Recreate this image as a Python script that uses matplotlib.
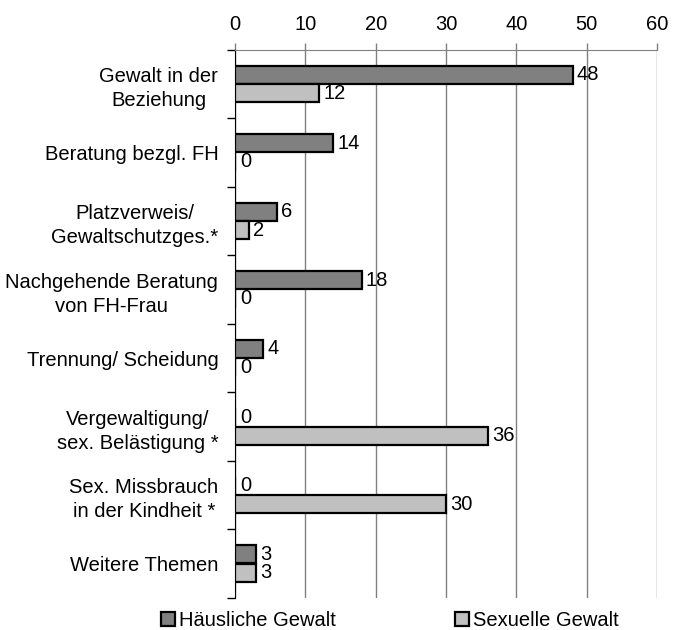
import matplotlib.pyplot as plt
import numpy as np

plt.rcParams['font.family'] = ['Liberation Sans', 'DejaVu Sans']

kategorien = ['Gewalt in der\nBeziehung', 'Beratung bezgl. FH', 'Platzverweis/\nGewaltschutzges.*',
              'Nachgehende Beratung\nvon FH-Frau', 'Trennung/ Scheidung', 'Vergewaltigung/\nsex. Belästigung *',
              'Sex. Missbrauch\nin der Kindheit *', 'Weitere Themen']
haeusliche = [48, 14, 6, 18, 4, 0, 0, 3]
sexuelle = [12, 0, 2, 0, 0, 36, 30, 3]
serien = ['Häusliche Gewalt', 'Sexuelle Gewalt']

fig = plt.figure(figsize=(6.83, 6.3), dpi=100)
ax = fig.add_axes([0.344, 0.051, 0.618, 0.870])

y = np.arange(len(kategorien))
h = 0.26
fs = 14.5

b1 = ax.barh(y - 0.135, haeusliche, height=h, color='#808080', edgecolor='black', linewidth=1.6, zorder=3, label=serien[0])
b2 = ax.barh(y + 0.135, sexuelle, height=h, color='#c0c0c0', edgecolor='black', linewidth=1.6, zorder=3, label=serien[1])

for bars, werte in [(b1, haeusliche), (b2, sexuelle)]:
    for rect, w in zip(bars, werte):
        yc = rect.get_y() + rect.get_height() / 2
        dx = 3 if w > 0 else 4
        ax.annotate(str(w), (w, yc), xytext=(dx, 0), textcoords='offset points',
                    va='center', ha='left', fontsize=fs)

ax.set_xlim(0, 60)
ax.set_ylim(len(kategorien) - 0.5, -0.5)
ax.xaxis.tick_top()
ax.set_xticks(range(0, 61, 10))
ax.tick_params(axis='x', length=5, width=1, color='#808080', labelsize=fs, pad=6)
ax.grid(axis='x', color='#808080', linewidth=1, zorder=0)

ax.set_yticks(y)
ax.set_yticklabels(kategorien, fontsize=fs, multialignment='center', linespacing=1.35)
ax.set_yticks(np.arange(-0.5, len(kategorien)), minor=True)
ax.tick_params(axis='y', which='major', length=0, pad=12)
ax.tick_params(axis='y', which='minor', length=6, width=1, color='black')

ax.spines['right'].set_visible(False)
ax.spines['bottom'].set_visible(False)
ax.spines['top'].set_color('#808080')
ax.spines['left'].set_color('black')

fig.legend(handles=[b1, b2], loc='center', bbox_to_anchor=(0.571, 0.015), ncol=2, frameon=False,
           fontsize=fs, handlelength=0.7, handleheight=0.7, handletextpad=0.2, columnspacing=5.9)

fig.savefig('out.png', dpi=100)
